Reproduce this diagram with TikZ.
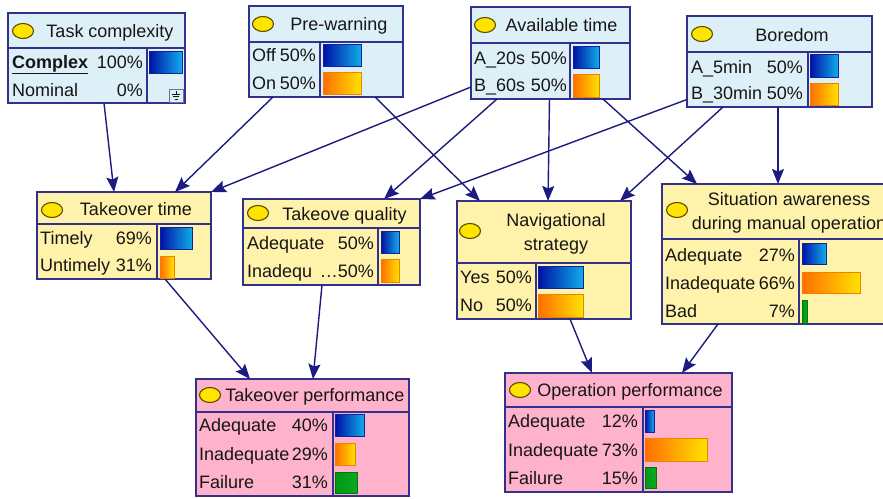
\documentclass[tikz,border=0pt]{standalone}
\usepackage{fontspec}
\setmainfont{Liberation Sans}
\usetikzlibrary{arrows.meta,shapes.geometric}

\definecolor{framec}{RGB}{50,50,140}
\definecolor{linkc}{RGB}{28,28,128}
\definecolor{txt}{RGB}{22,22,22}
\definecolor{paleblue}{RGB}{222,240,247}
\definecolor{paleyellow}{RGB}{255,242,170}
\definecolor{palepink}{RGB}{255,178,204}
\definecolor{bulbfill}{RGB}{255,228,0}
\definecolor{bulbline}{RGB}{90,76,0}
\definecolor{bluea}{RGB}{0,16,165}
\definecolor{blueb}{RGB}{16,172,232}
\definecolor{bluec}{RGB}{16,32,160}
\definecolor{orangea}{RGB}{255,110,0}
\definecolor{orangeb}{RGB}{255,226,0}
\definecolor{orangec}{RGB}{240,128,0}
\definecolor{greena}{RGB}{0,150,20}
\definecolor{greenb}{RGB}{10,170,30}
\definecolor{greenc}{RGB}{0,120,10}

\tikzset{
  frame/.style={draw=framec, line width=1.3pt, inner sep=0pt, outer sep=0pt},
  frameline/.style={draw=framec, line width=1.3pt},
  titletext/.style={font=\fontsize{18}{24}\selectfont, text=txt, inner sep=0pt, align=center},
  statetext/.style={font=\fontsize{18}{21}\selectfont, text=txt, inner sep=0pt},
  bulb/.style={ellipse, draw=bulbline, fill=bulbfill, line width=1.1pt,
    minimum width=21pt, minimum height=15pt, inner sep=0pt},
  link/.style={draw=linkc, line width=1.4pt, -{Stealth[length=15pt,width=12pt,inset=2.5pt]}},
  bluebar/.style={left color=bluea, right color=blueb, draw=bluec, line width=0.8pt},
  orangebar/.style={left color=orangea, right color=orangeb, draw=orangec, line width=0.8pt},
  greenbar/.style={left color=greena, right color=greenb, draw=greenc, line width=0.8pt},
}

% frame of one network node: name, fill, x1, y1, x2, y2, title divider y, column divider x
\newcommand{\bnframe}[8]{%
  \node[frame, fill=#2, minimum width={(#5)-(#3)}, minimum height={(#6)-(#4)}]
    (#1) at ({((#3)+(#5))/2},{((#4)+(#6))/2}) {};
  \draw[frameline] (#3,#7) -- (#5,#7) (#8,#7) -- (#8,#6);
}
% title: name, bulb x, bulb y, text x, baseline y of the last line, text
\newcommand{\bntitle}[6]{%
  \node[bulb] (#1-bulb) at (#2,#3) {};
  \node[titletext, anchor=base] (#1-title) at (#4,#5) {#6};
}
% state row: row name, left x, right x, centre y, state, percentage
\newcommand{\bnrow}[6]{%
  \node[statetext, anchor=base west] (#1-l) at (#2,{(#4)+6.5}) {#5};
  \node[statetext, anchor=base east] (#1-p) at (#3,{(#4)+6.5}) {#6};
}

\begin{document}
\begin{tikzpicture}[x=1pt,y=-1pt]
\useasboundingbox (0,0) rectangle (883,498);
\clip (0,0) rectangle (883,498);
\fill[white] (0,0) rectangle (883,498);

% ---- Task complexity
\bnframe{tc}{paleblue}{8}{13}{185}{103}{48}{147}
\bntitle{tc}{23}{31}{110}{37.5}{Task complexity}
\bnrow{tc1}{12}{143}{62}{\underline{\textbf{Complex}}}{100\%}
\bnrow{tc2}{12}{143}{90}{Nominal}{0\%}
\path[bluebar] (149,51) rectangle (182,73);
\draw[framec!70, line width=0.7pt, fill=paleblue] (169,89) rectangle (183,102);
\draw[txt, line width=0.8pt] (176,91) -- (176,94) (172,94) -- (180,94) (173,96.5) -- (179,96.5) (174.5,99) -- (177.5,99);

% ---- Pre-warning
\bnframe{pw}{paleblue}{249}{6}{403}{97}{42}{320}
\bntitle{pw}{263}{24}{339}{30.5}{Pre-warning}
\bnrow{pw1}{252}{316}{55}{Off}{50\%}
\bnrow{pw2}{252}{316}{83}{On}{50\%}
\path[bluebar] (323,44) rectangle (361,66);
\path[orangebar] (323,72) rectangle (361,94);

% ---- Available time
\bnframe{avt}{paleblue}{471}{7}{630}{99}{43}{570}
\bntitle{avt}{485}{25}{561.5}{31.5}{Available time}
\bnrow{avt1}{474}{567}{58}{A\_20s}{50\%}
\bnrow{avt2}{474}{567}{85}{B\_60s}{50\%}
\path[bluebar] (573,46) rectangle (599,68);
\path[orangebar] (573,74) rectangle (599,97);

% ---- Boredom
\bnframe{bo}{paleblue}{687}{16}{872}{107}{52}{808}
\bntitle{bo}{702}{34}{792}{41.5}{Boredom}
\bnrow{bo1}{691}{803}{67}{A\_5min}{50\%}
\bnrow{bo2}{691}{803}{93}{B\_30min}{50\%}
\path[bluebar] (810,54) rectangle (838,77);
\path[orangebar] (810,83) rectangle (838,105);

% ---- Takeover time
\bnframe{tt}{paleyellow}{37}{192}{211}{279}{224}{157}
\bntitle{tt}{52}{210}{136}{215.5}{Takeover time}
\bnrow{tt1}{40}{152}{238}{Timely}{69\%}
\bnrow{tt2}{40}{152}{265}{Untimely}{31\%}
\path[bluebar] (160,227) rectangle (192,249);
\path[orangebar] (160,256) rectangle (174,278);

% ---- Takeove quality
\bnframe{tq}{paleyellow}{243}{199}{420}{285}{228}{378}
\bntitle{tq}{258}{213}{344.5}{220.5}{Takeove quality}
\bnrow{tq1}{247}{374}{243}{Adequate}{50\%}
\bnrow{tq2}{247}{374}{271}{Inadequ}{…50\%}
\path[bluebar] (381,231) rectangle (399,253);
\path[orangebar] (381,259) rectangle (399,282);

% ---- Navigational strategy
\bnframe{ns}{paleyellow}{457}{201}{631}{319}{263}{536}
\bntitle{ns}{470}{231}{556}{250.5}{Navigational\\strategy}
\bnrow{ns1}{460}{532}{277}{Yes}{50\%}
\bnrow{ns2}{460}{532}{305}{No}{50\%}
\path[bluebar] (538,266) rectangle (583,288);
\path[orangebar] (538,294) rectangle (583,317);

% ---- Situation awareness during manual operation
\bnframe{sa}{paleyellow}{662}{184}{905}{324}{239}{799}
\bntitle{sa}{677}{210}{789}{229.5}{Situation awareness\\during manual operation}
\bnrow{sa1}{665}{795}{255}{Adequate}{27\%}
\bnrow{sa2}{665}{795}{283}{Inadequate}{66\%}
\bnrow{sa3}{665}{795}{311}{Bad}{7\%}
\path[bluebar] (802,243) rectangle (826,264);
\path[orangebar] (802,272) rectangle (860,293);
\path[greenbar] (802,300) rectangle (807,323);

% ---- Takeover performance
\bnframe{tp}{palepink}{196}{379}{409}{496}{412}{333}
\bntitle{tp}{210}{395}{315}{401.5}{Takeover performance}
\bnrow{tp1}{199}{328}{425}{Adequate}{40\%}
\bnrow{tp2}{199}{328}{454}{Inadequate}{29\%}
\bnrow{tp3}{199}{328}{482}{Failure}{31\%}
\path[bluebar] (335,414) rectangle (364,436);
\path[orangebar] (335,443) rectangle (355,465);
\path[greenbar] (335,472) rectangle (357,493);

% ---- Operation performance
\bnframe{op}{palepink}{505}{373}{732}{492}{407}{643}
\bntitle{op}{520}{390}{630}{396.5}{Operation performance}
\bnrow{op1}{508}{638}{421}{Adequate}{12\%}
\bnrow{op2}{508}{638}{450}{Inadequate}{73\%}
\bnrow{op3}{508}{638}{478}{Failure}{15\%}
\path[bluebar] (645,410) rectangle (654,432);
\path[orangebar] (645,438) rectangle (707,461);
\path[greenbar] (645,467) rectangle (656,488);

% ---- links
\draw[link] ([xshift=7.5pt]tc.south) -- ([xshift=-10pt]tt.north);
\draw[link] ([xshift=-53pt]pw.south) -- ([xshift=51pt]tt.north);
\draw[link] ([yshift=-34pt]avt.west) -- (tt.north east);
\draw[link] ([xshift=49pt]pw.south) -- ([xshift=-64pt]ns.north);
\draw[link] ([xshift=-53.5pt]avt.south) -- ([xshift=52.5pt]tq.north);
\draw[link] ([yshift=-38pt]bo.west) -- (tq.north east);
\draw[link] ([xshift=-1pt]avt.south) -- ([xshift=4pt]ns.north);
\draw[link] ([xshift=52.5pt]avt.south) -- ([xshift=35pt]sa.north west);
\draw[link] ([xshift=-56.5pt]bo.south) -- ([xshift=-11pt]ns.north east);
\draw[link] ([xshift=-1.5pt]bo.south) -- ([xshift=116pt]sa.north west);
\draw[link] ([xshift=41pt]tt.south) -- ([xshift=-52.5pt]tp.north);
\draw[link] ([xshift=-9.5pt]tq.south) -- ([xshift=10.5pt]tp.north);
\draw[link] ([xshift=26pt]ns.south) -- ([xshift=-26.5pt]op.north);
\draw[link] ([xshift=56pt]sa.south west) -- ([xshift=63.5pt]op.north);
\end{tikzpicture}
\end{document}
